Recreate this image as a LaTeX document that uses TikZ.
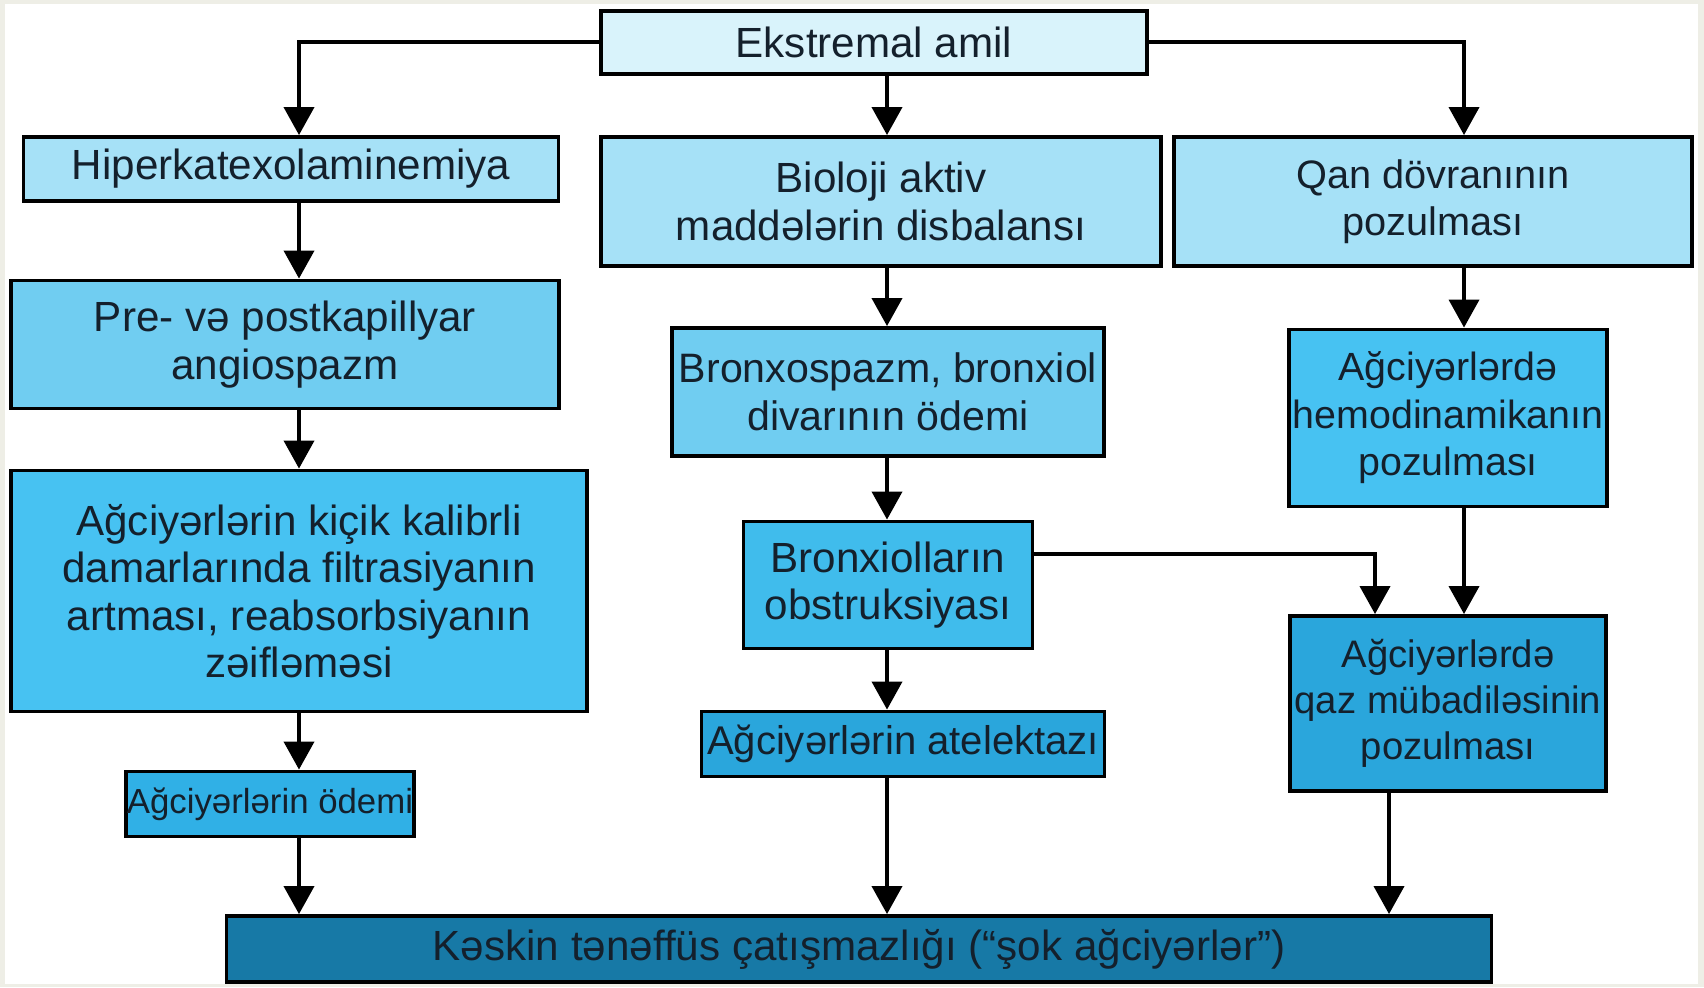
\documentclass[tikz,border=0pt]{standalone}
\usepackage{fontspec}
\setmainfont{Liberation Sans}
\usepackage{tikz}
\usetikzlibrary{arrows.meta}
\definecolor{ink}{HTML}{14202C}
\definecolor{frame}{HTML}{EEEEE6}
\definecolor{sky0}{HTML}{D9F3FB}
\definecolor{sky1}{HTML}{A6E1F7}
\definecolor{sky2}{HTML}{70CDF1}
\definecolor{sky3}{HTML}{47C2F2}
\definecolor{sky4}{HTML}{40BCEC}
\definecolor{sky5}{HTML}{30B0E6}
\definecolor{sky6}{HTML}{2AA6DC}
\definecolor{dkteal}{HTML}{1779A6}
\newcommand{\azf}[1]{\fontsize{#1pt}{13.5pt}\selectfont}

\begin{document}
\begin{tikzpicture}[x=1cm, y=-1cm, line width=1.1pt]
      \tikzset{box/.style={draw, rectangle, inner sep=1pt, align=center,
        text=ink, font=\azf{12}}}
      \tikzset{arr/.style={draw, -{Triangle[width=3mm,length=2.8mm]}}}
      \tikzset{elbow/.style={arr, to path={-| (\tikztotarget)}}}

      \fill[frame] (0,0) rectangle (17.04,9.87);
      \fill[white] (0.05,0.04) rectangle (16.98,9.84);

      \draw
      (8.74,0.424) node [box, fill=sky0, minimum width=5.46cm, minimum height=0.63cm] (ekstr) {Ekstremal amil}

      (2.91,1.69) node [box, fill=sky1, minimum width=5.35cm, minimum height=0.64cm] (hiper) {Hiperkatexolaminemiya}
      (8.81,2.015) node [box, fill=sky1, minimum width=5.6cm, minimum height=1.29cm] (bio) {Bioloji aktiv\\maddələrin disbalansı}
      (14.33,2.015) node [box, fill=sky1, minimum width=5.18cm, minimum height=1.29cm, font=\azf{11.3}] (qan) {Qan dövranının\\pozulması}

      (2.85,3.445) node [box, fill=sky2, minimum width=5.48cm, minimum height=1.28cm] (pre) {Pre- və postkapillyar\\angiospazm}
      (8.88,3.92) node [box, fill=sky2, minimum width=4.32cm, minimum height=1.28cm, font=\azf{11.7}] (bronx1) {Bronxospazm, bronxiol\\divarının ödemi}
      (14.48,4.18) node [box, fill=sky3, minimum width=3.16cm, minimum height=1.77cm, font=\azf{11.2}] (hemo) {Ağciyərlərdə\\hemodinamikanın\\pozulması}

      (2.99,5.91) node [box, fill=sky3, minimum width=5.76cm, minimum height=2.41cm] (kicik) {Ağciyərlərin kiçik kalibrli\\damarlarında filtrasiyanın\\artması, reabsorbsiyanın\\zəifləməsi}
      (8.88,5.85) node [box, fill=sky4, minimum width=2.89cm, minimum height=1.27cm] (bronx2) {Bronxiolların\\obstruksiyası}
      (14.48,7.035) node [box, fill=sky6, minimum width=3.16cm, minimum height=1.75cm, font=\fontsize{10.9pt}{13pt}\selectfont] (qaz) {Ağciyərlərdə\\qaz mübadiləsinin\\pozulması}

      (2.70,8.04) node [box, fill=sky5, minimum width=2.88cm, minimum height=0.65cm, inner sep=0pt, font=\azf{9.9}] (odem) {Ağciyərlərin ödemi}
      (9.03,7.44) node [box, fill=sky6, minimum width=4.03cm, minimum height=0.65cm, font=\azf{11.4}] (atel) {Ağciyərlərin atelektazı}

      (8.59,9.49) node [box, fill=dkteal, minimum width=12.65cm, minimum height=0.66cm] (kesk) {Kəskin tənəffüs çatışmazlığı (“şok ağciyərlər”)};

      \coordinate (colL) at (2.99,0);
      \coordinate (colM) at (8.87,0);
      \coordinate (colR) at (14.64,0);
      \coordinate (turn) at (13.75,5.54);
      \coordinate (colQ) at (13.89,0);

      \path
      (ekstr.west) edge[elbow] (hiper.north -| colL)
      (ekstr.east) edge[elbow] (qan.north -| colR)
      (ekstr.south -| colM) edge[arr] (bio.north -| colM)

      (hiper.south -| colL) edge[arr] (pre.north -| colL)
      (pre.south -| colL) edge[arr] (kicik.north -| colL)
      (kicik.south -| colL) edge[arr] (odem.north -| colL)
      (odem.south -| colL) edge[arr] (kesk.north -| colL)

      (bio.south -| colM) edge[arr] (bronx1.north -| colM)
      (bronx1.south -| colM) edge[arr] (bronx2.north -| colM)
      (bronx2.south -| colM) edge[arr] (atel.north -| colM)
      (atel.south -| colM) edge[arr] (kesk.north -| colM)

      (bronx2.east |- turn) edge[elbow] (qaz.north -| turn)
      (qan.south -| colR) edge[arr] (hemo.north -| colR)
      (hemo.south -| colR) edge[arr] (qaz.north -| colR)
      (qaz.south -| colQ) edge[arr] (kesk.north -| colQ);
    \end{tikzpicture}
\end{document}
